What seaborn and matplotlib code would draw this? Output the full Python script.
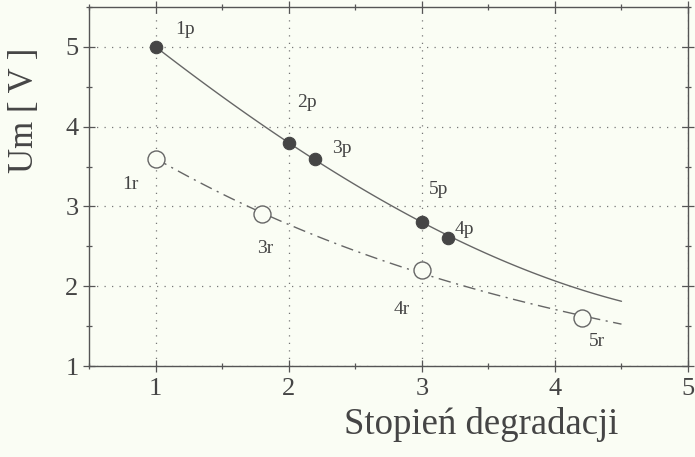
import numpy as np
import pandas as pd
import matplotlib
matplotlib.use("Agg")
import matplotlib.pyplot as plt
import seaborn as sns

# measured points (p = filled, r = open)
p_x = [1.0, 2.0, 2.2, 3.0, 3.2]
p_y = [5.0, 3.8, 3.6, 2.8, 2.6]
p_labels = ["1p", "2p", "3p", "5p", "4p"]

r_x = [1.0, 1.8, 3.0, 4.2]
r_y = [3.6, 2.9, 2.2, 1.6]
r_labels = ["1r", "3r", "4r", "5r"]

# trend curves
curve_x = [1.0, 2.0, 3.0, 4.0, 4.5]
p_curve_y = [5.0, 3.8, 2.8, 2.07, 1.81]
r_curve_y = [3.6, 2.78, 2.15, 1.72, 1.52]

ink = "#454545"
bg = "#fafdf4"

sns.set_theme(style="ticks")
plt.rcParams["font.family"] = ["Liberation Serif", "DejaVu Serif"]

fig = plt.figure(figsize=(6.95, 4.57), dpi=100, facecolor=bg)
ax = fig.add_axes([0.128, 0.199, 0.862, 0.786])
ax.set_facecolor(bg)

xs = np.linspace(1.0, 4.5, 100)
p_fit = np.polyval(np.polyfit(curve_x, p_curve_y, 3), xs)
r_fit = np.polyval(np.polyfit(curve_x, r_curve_y, 3), xs)

sns.lineplot(x=xs, y=p_fit, ax=ax, color="#666666", lw=1.0)
sns.lineplot(x=xs, y=r_fit, ax=ax, color="#666666", lw=1.0,
             linestyle=(0, (9, 4, 1.5, 4)))

sns.scatterplot(x=p_x, y=p_y, ax=ax, s=80, color=ink, edgecolor=ink,
                linewidth=0.8, zorder=5)
sns.scatterplot(x=r_x, y=r_y, ax=ax, s=150, facecolor=bg, edgecolor="#666666",
                linewidth=1.0, zorder=5)

p_off = [(30, 17), (18, 40), (27, 10), (17, 33), (16, 9)]
r_off = [(-25, -26), (3, -34), (-20, -39), (15, -23)]
for x, y, t, o in zip(p_x, p_y, p_labels, p_off):
    ax.annotate(t, (x, y), xytext=o, textcoords="offset pixels",
                ha="center", va="center", fontsize=14, color=ink)
for x, y, t, o in zip(r_x, r_y, r_labels, r_off):
    ax.annotate(t, (x, y), xytext=o, textcoords="offset pixels",
                ha="center", va="center", fontsize=14, color=ink)

ax.set_xlim(0.5, 5.0)
ax.set_ylim(1.0, 5.5)
ax.set_xticks([1, 2, 3, 4, 5])
ax.set_yticks([1, 2, 3, 4, 5])
ax.set_xticks(np.arange(0.5, 5.01, 0.5), minor=True)
ax.set_yticks(np.arange(1.0, 5.51, 0.5), minor=True)
ax.grid(True, which="major", linestyle=(0, (1, 5)), color="#777777", lw=0.9)

ax.tick_params(which="both", direction="inout", top=True, right=True,
               colors="#555555", labelcolor=ink, labelsize=19, width=0.9)
ax.tick_params(which="major", length=9)
ax.tick_params(which="minor", length=5)
ax.tick_params(axis="x", which="major", pad=4)
ax.tick_params(axis="y", which="major", pad=3)
for s in ax.spines.values():
    s.set_color("#555555")
    s.set_linewidth(1.0)

ax.set_xlabel("Stopień degradacji", fontsize=26.5, color=ink)
ax.xaxis.set_label_coords(0.655, -0.115)
ax.set_ylabel("Um [ V ]", fontsize=25, color=ink)
ax.yaxis.set_label_coords(-0.08, 0.713)

fig.savefig("out.png", dpi=100, facecolor=bg)
